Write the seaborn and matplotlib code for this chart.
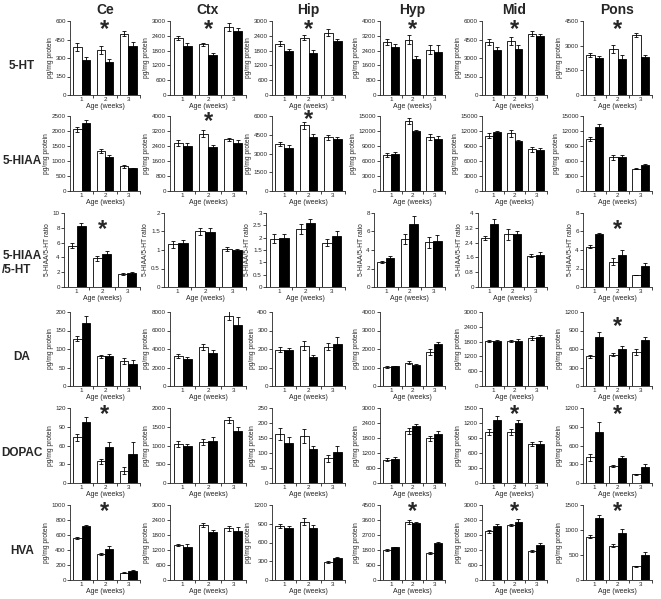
import numpy as np
import pandas as pd
import matplotlib
matplotlib.use("Agg")
import matplotlib.pyplot as plt
import matplotlib.transforms as mtransforms
from matplotlib.ticker import FuncFormatter, FixedLocator
import seaborn as sns

# ---------------- data ----------------
regions = ["Ce", "Ctx", "Hip", "Hyp", "Mid", "Pons"]
analytes = ["5-HT", "5-HIAA", "5-HIAA\n/5-HT", "DA", "DOPAC", "HVA"]
ages = ["1", "2", "3"]
groups = ["open", "filled"]
ylabels = ["pg/mg protein", "pg/mg protein", "5-HIAA/5-HT ratio",
           "pg/mg protein", "pg/mg protein", "pg/mg protein"]
xlabel = "Age (weeks)"

# 5-HT
ht_open = [[390, 365, 495], [2300, 2050, 2750], [2080, 2330, 2530],
           [2870, 2980, 2450], [4300, 4350, 4950], [2430, 2800, 3650]]
ht_open_err = [[30, 32, 20], [80, 50, 170], [100, 110, 150],
               [150, 250, 250], [220, 330, 200], [100, 250, 150]]
ht_filled = [[285, 265, 400], [2000, 1620, 2600], [1780, 1700, 2170],
             [2600, 1950, 2350], [3650, 3700, 4750], [2270, 2200, 2300]]
ht_filled_err = [[22, 28, 30], [90, 90, 110], [70, 110, 110],
                 [150, 180, 330], [250, 330, 180], [130, 250, 120]]

# 5-HIAA
hiaa_open = [[2060, 1330, 820], [2560, 3050, 2750], [3750, 5250, 4300],
             [7200, 14000, 10900], [11100, 11600, 8400], [10400, 6800, 4500]]
hiaa_open_err = [[80, 60, 40], [150, 180, 60], [150, 300, 200],
                 [400, 600, 600], [500, 700, 500], [400, 500, 150]]
hiaa_filled = [[2270, 1120, 760], [2420, 2350, 2580], [3450, 4300, 4200],
               [7500, 12000, 10400], [11800, 10000, 8300], [12800, 6900, 5200]]
hiaa_filled_err = [[90, 70, 20], [150, 100, 130], [200, 250, 150],
                   [400, 300, 600], [300, 150, 400], [600, 300, 300]]

# 5-HIAA / 5-HT ratio
ratio_open = [[5.6, 3.9, 1.75], [1.15, 1.5, 1.02], [1.95, 2.35, 1.8],
              [2.7, 5.2, 4.85], [2.65, 2.85, 1.7], [4.35, 2.75, 1.3]]
ratio_open_err = [[0.3, 0.35, 0.15], [0.1, 0.1, 0.05], [0.18, 0.22, 0.15],
                  [0.15, 0.55, 0.6], [0.12, 0.3, 0.1], [0.15, 0.4, 0.05]]
ratio_filled = [[8.2, 4.5, 1.9], [1.2, 1.48, 1.0], [2.0, 2.6, 2.05],
                [3.1, 6.8, 4.95], [3.4, 2.85, 1.75], [5.7, 3.45, 2.3]]
ratio_filled_err = [[0.5, 0.3, 0.1], [0.06, 0.12, 0.04], [0.13, 0.17, 0.2],
                    [0.25, 0.9, 0.7], [0.3, 0.15, 0.15], [0.12, 0.5, 0.25]]

# DA
da_open = [[128, 80, 67], [3250, 4200, 7600], [197, 218, 213],
           [1030, 1250, 1820], [1820, 1820, 1940], [480, 505, 545]]
da_open_err = [[7, 5, 8], [200, 300, 500], [15, 25, 20],
               [50, 80, 170], [30, 30, 80], [20, 25, 50]]
da_filled = [[170, 80, 60], [2900, 3550, 6600], [192, 157, 228],
             [1060, 1130, 2280], [1810, 1820, 2000], [790, 595, 745]]
da_filled_err = [[20, 6, 9], [250, 300, 900], [15, 8, 35],
                 [40, 60, 80], [40, 80, 80], [85, 60, 50]]

# DOPAC
dopac_open = [[73, 35, 20], [1040, 1100, 1670], [163, 157, 82],
              [940, 2100, 1800], [1030, 1030, 790], [410, 270, 140]]
dopac_open_err = [[5, 4, 6], [90, 80, 80], [20, 22, 13],
                  [50, 120, 100], [60, 60, 40], [50, 15, 10]]
dopac_filled = [[98, 57, 46], [980, 1120, 1380], [135, 115, 105],
                [980, 2270, 1950], [1270, 1200, 790], [820, 400, 260]]
dopac_filled_err = [[8, 9, 20], [70, 110, 120], [20, 8, 18],
                    [60, 90, 120], [80, 60, 50], [150, 40, 40]]

# HVA
hva_open = [[565, 350, 100], [1400, 2200, 2070], [865, 935, 285],
            [1800, 3480, 1620], [1950, 2200, 1170], [870, 690, 275]]
hva_open_err = [[12, 15, 5], [50, 80, 100], [30, 50, 20],
                [50, 100, 40], [60, 50, 40], [30, 30, 15]]
hva_filled = [[720, 420, 125], [1330, 1940, 1950], [830, 840, 360],
              [1960, 3400, 2220], [2180, 2340, 1400], [1240, 940, 495]]
hva_filled_err = [[15, 35, 8], [110, 80, 190], [40, 40, 15],
                  [40, 100, 40], [60, 90, 70], [60, 80, 60]]

# y-axis ranges (max, step) per analyte row, per region column
y_max = [[600, 3000, 3000, 4000, 6000, 4500],
         [2500, 4000, 6000, 15000, 15000, 15000],
         [10, 2, 3, 8, 4, 8],
         [200, 8000, 400, 4000, 3000, 1200],
         [120, 2000, 250, 3000, 1500, 1200],
         [1000, 3000, 1200, 4500, 3000, 1500]]
y_step = [[150, 600, 600, 800, 1500, 1500],
          [500, 800, 1500, 3000, 3000, 3000],
          [2, 0.5, 0.5, 2, 0.8, 2],
          [50, 2000, 100, 1000, 600, 300],
          [30, 500, 50, 600, 300, 300],
          [200, 600, 300, 900, 600, 500]]

# significance stars: (row, column, age label)
stars = [(0, 0, "2"), (0, 1, "2"), (0, 2, "2"), (0, 3, "2"), (0, 4, "2"), (0, 5, "2"),
         (1, 1, "2"), (1, 2, "2"),
         (2, 0, "2"), (2, 5, "2"),
         (3, 5, "2"),
         (4, 0, "2"), (4, 4, "2"), (4, 5, "2"),
         (5, 0, "2"), (5, 3, "2"), (5, 4, "2"), (5, 5, "2")]

series_open = [ht_open, hiaa_open, ratio_open, da_open, dopac_open, hva_open]
series_open_err = [ht_open_err, hiaa_open_err, ratio_open_err, da_open_err,
                   dopac_open_err, hva_open_err]
series_filled = [ht_filled, hiaa_filled, ratio_filled, da_filled, dopac_filled, hva_filled]
series_filled_err = [ht_filled_err, hiaa_filled_err, ratio_filled_err, da_filled_err,
                     dopac_filled_err, hva_filled_err]

# ---------------- style ----------------
sns.set_style("ticks")
plt.rcParams["font.family"] = ["Liberation Sans", "DejaVu Sans"]
plt.rcParams["axes.linewidth"] = 0.6

W, H = 661, 599
fig = plt.figure(figsize=(W / 100, H / 100), dpi=100)

col_left = [70, 170, 272, 380, 482, 583]
col_right = [140, 246, 345, 445, 547, 652]
ratio_left = [64, 164, 266, 374, 478, 583]
row_top = [21, 116, 213, 312, 408, 505]
row_bot = [95, 191, 287, 386, 483, 580]
star_frac = {(0, 0): 0.89, (0, 1): 0.89, (0, 2): 0.89, (0, 3): 0.89, (0, 4): 0.89,
             (0, 5): 0.89, (1, 1): 0.93, (1, 2): 0.95, (2, 0): 0.78, (2, 5): 0.78,
             (3, 5): 0.80, (4, 0): 0.91, (4, 4): 0.91, (4, 5): 0.91,
             (5, 0): 0.91, (5, 3): 0.91, (5, 4): 0.91, (5, 5): 0.91}

fmt = FuncFormatter(lambda v, p: ("%g" % round(v, 6)))

for r in range(6):
    for c in range(6):
        left = (ratio_left[c] if r == 2 else col_left[c])
        ax = fig.add_axes([left / W, 1 - row_bot[r] / H,
                           (col_right[c] - left) / W, (row_bot[r] - row_top[r]) / H])
        df = pd.DataFrame({
            "age": ages * 2,
            "group": [groups[0]] * 3 + [groups[1]] * 3,
            "value": list(series_open[r][c]) + list(series_filled[r][c]),
        })
        sns.barplot(data=df, x="age", y="value", hue="group", order=ages,
                    hue_order=groups, palette={groups[0]: "white", groups[1]: "black"},
                    edgecolor="black", linewidth=0.6, errorbar=None, width=0.72,
                    saturation=1, legend=False, ax=ax)
        # error bars on top of the bars, taken from the drawn patches
        patches = sorted([p for p in ax.patches if p.get_height() > 0],
                         key=lambda p: p.get_x())
        errs = []
        for i in range(3):
            errs += [series_open_err[r][c][i], series_filled_err[r][c][i]]
        xs = [p.get_x() + p.get_width() / 2 for p in patches]
        hs = [p.get_height() for p in patches]
        ax.errorbar(xs, hs, yerr=errs, fmt="none", ecolor="black",
                    elinewidth=0.6, capsize=1.6, capthick=0.6, zorder=5)

        ax.set_xlim(-0.5, 2.5)
        ax.set_ylim(0, y_max[r][c])
        ax.set_yticks(np.arange(0, y_max[r][c] + y_step[r][c] / 2, y_step[r][c]))
        ax.yaxis.set_major_formatter(fmt)
        ax.xaxis.set_minor_locator(FixedLocator([0.5, 1.5, 2.5]))
        ax.tick_params(axis="x", which="major", length=0, labelsize=4.5, pad=1.5)
        ax.tick_params(axis="x", which="minor", length=2, width=0.6)
        ax.tick_params(axis="y", which="major", length=2, width=0.6, labelsize=4.5, pad=1)
        ax.set_ylabel(ylabels[r], fontsize=4.8, labelpad=1.2)
        ax.set_xlabel(xlabel, fontsize=5, labelpad=0.5)
        sns.despine(ax=ax)

        for (sr, sc, sage) in stars:
            if sr == r and sc == c:
                trans = mtransforms.blended_transform_factory(ax.transData, ax.transAxes)
                ax.text(ages.index(sage), star_frac[(r, c)], "*", transform=trans,
                        ha="center", va="center", fontsize=17, fontweight="bold",
                        clip_on=False)

# column titles
for c in range(6):
    cx = (col_left[c] + col_right[c]) / 2
    fig.text(cx / W, 1 - 10 / H, regions[c], ha="center", va="center",
             fontsize=10, fontweight="bold")

# row labels
for r in range(6):
    cy = (row_top[r] + row_bot[r]) / 2 + (13 if r == 2 else 8)
    fig.text(22 / W, 1 - cy / H, analytes[r], ha="center", va="center",
             fontsize=8.5, fontweight="bold", multialignment="left")

fig.savefig("out.png", dpi=100)
